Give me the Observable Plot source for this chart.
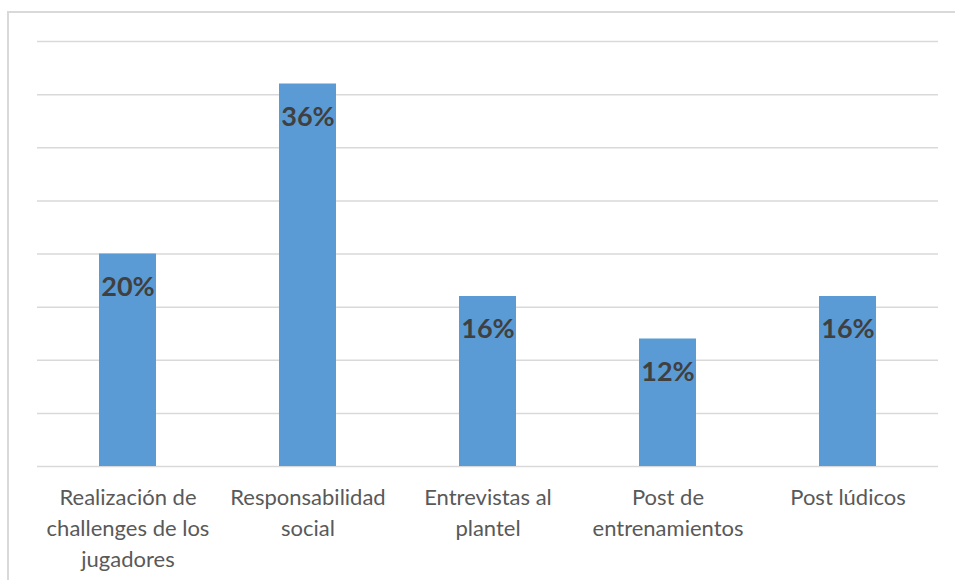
<!DOCTYPE html>
<html>
<head>
<meta charset="utf-8">
<script src="https://cdn.jsdelivr.net/npm/d3@7"></script>
<script src="https://cdn.jsdelivr.net/npm/@observablehq/plot@0.6"></script>
<style>
  html, body { margin: 0; padding: 0; background: #fff; }
  #wrap { position: relative; width: 955px; height: 580px; overflow: hidden; }
  #border { position: absolute; left: 7px; top: 11px; width: 1000px; height: 700px; border: 2px solid #d9d9d9; box-sizing: border-box; pointer-events: none; }
  #chart { position: absolute; left: 0; top: 0; }
</style>
</head>
<body>
<div id="wrap"><div id="border"></div><div id="chart"></div></div>
<script>
const categories = [
  "Realización de challenges de los jugadores",
  "Responsabilidad social",
  "Entrevistas al plantel",
  "Post de entrenamientos",
  "Post lúdicos"
];
const tickLabels = [
  "Realización de\nchallenges de los\njugadores",
  "Responsabilidad\nsocial",
  "Entrevistas al\nplantel",
  "Post de\nentrenamientos",
  "Post lúdicos"
];
const values = [20, 36, 16, 12, 16];
const gridTicks = [0, 5, 10, 15, 20, 25, 30, 35, 40];

const data = categories.map((c, i) => ({category: c, value: values[i], label: tickLabels[i]}));
const labelOf = new Map(data.map(d => [d.category, d.label]));

const chart = Plot.plot({
  width: 955,
  height: 580,
  marginLeft: 37,
  marginRight: 17,
  marginTop: 41,
  marginBottom: 114,
  style: {fontFamily: "Lato, 'Open Sans', sans-serif", background: "transparent"},
  x: {domain: categories, paddingInner: 0.684, paddingOuter: 0.342, align: 0.5, label: null},
  y: {domain: [0, 40], label: null, axis: null},
  marks: [
    Plot.ruleY(gridTicks, {stroke: "#d9d9d9", strokeWidth: 1.5}),
    Plot.barY(data, {x: "category", y: "value", fill: "#5b9bd5"}),
    Plot.text(data, {x: "category", y: "value", text: d => d.value + "%", dy: 33, fill: "#404040", fontWeight: "bold", fontSize: 27, fontFamily: "Lato, 'Open Sans', sans-serif"}),
    Plot.axisX({tickSize: 0, tickPadding: 17, fontSize: 22, lineHeight: 1.4, fill: "#595959", tickFormat: d => labelOf.get(d), label: null})
  ]
});
document.getElementById("chart").appendChild(chart);
</script>
</body>
</html>
